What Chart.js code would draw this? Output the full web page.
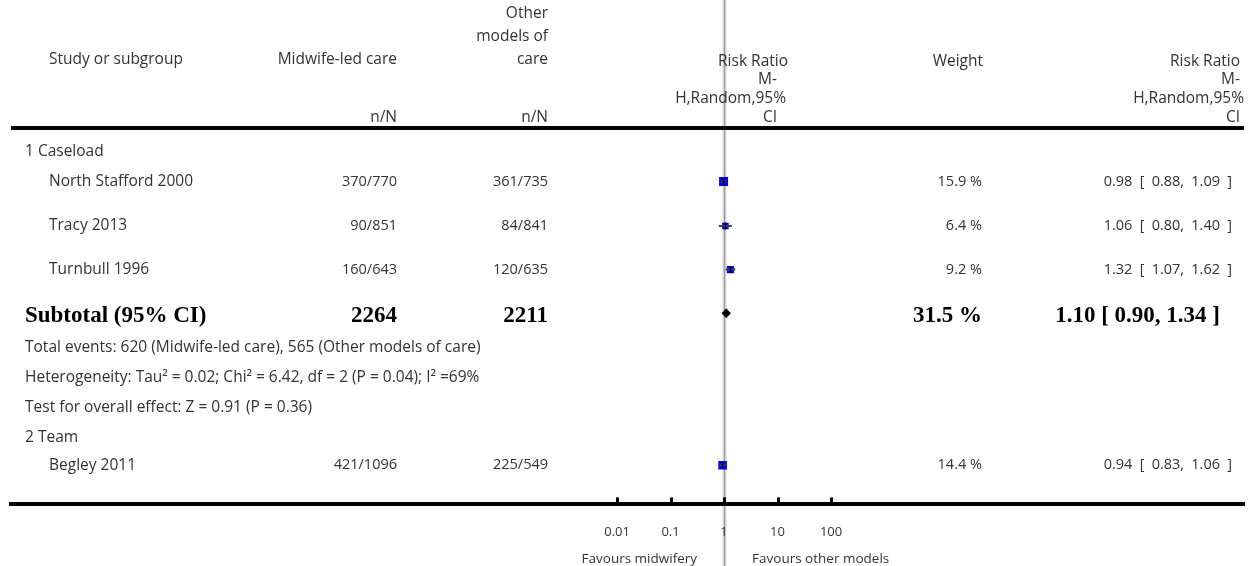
<!DOCTYPE html>
<html lang="en">
<head>
<meta charset="UTF-8">
<title>Midwife-led care vs other models of care</title>
<script src="https://cdn.jsdelivr.net/npm/chart.js"></script>
<style>
  html, body { margin: 0; padding: 0; background: #fff; }
  canvas { display: block; }
</style>
</head>
<body>
<canvas id="forest" width="1259" height="566"></canvas>
<script>
// individual studies
const studies = ['North Stafford 2000', 'Tracy 2013', 'Turnbull 1996', 'Begley 2011'];
const midwifeCounts = ['370/770', '90/851', '160/643', '421/1096'];
const otherCounts = ['361/735', '84/841', '120/635', '225/549'];
const weights = [15.9, 6.4, 9.2, 14.4];
const riskRatios = [0.98, 1.06, 1.32, 0.94];
const ciLower = [0.88, 0.80, 1.07, 0.83];
const ciUpper = [1.09, 1.40, 1.62, 1.06];

const subgroups = ['1 Caseload', '2 Team'];

// pooled result for the caseload subgroup
const subtotalLabel = 'Subtotal (95% CI)';
const subtotalTotals = [2264, 2211];
const subtotalWeight = 31.5;
const subtotalRR = 1.10;
const subtotalLower = 0.90;
const subtotalUpper = 1.34;
const subtotalNotes = [
  'Total events: 620 (Midwife-led care), 565 (Other models of care)',
  'Heterogeneity: Tau\u00b2 = 0.02; Chi\u00b2 = 6.42, df = 2 (P = 0.04); I\u00b2 =69%',
  'Test for overall effect: Z = 0.91 (P = 0.36)'
];

const xTicks = [0.01, 0.1, 1, 10, 100];
const favours = ['Favours midwifery', 'Favours other models'];

// vertical placement of each table row, in row units (top = 0)
const rows = {
  subgroups: [4.91, 14.56],
  studies: [5.91, 7.41, 8.88, 15.48],
  subtotal: 10.35,
  notes: [11.52, 12.52, 13.52]
};

const SANS = '"Open Sans", Lato, sans-serif';
const SERIF = '"Liberation Serif", "DejaVu Serif", serif';
const TEXT = '#333';

const fmt = v => v.toFixed(2);
// the CI column is set with wide (en) spaces
const ciText = (e, lo, hi) => fmt(e) + '\u2002[\u2002' + fmt(lo) + ',\u2002' + fmt(hi) + '\u2002]';

function text(ctx, str, x, y, align, font, color) {
  ctx.font = font;
  ctx.fillStyle = color || TEXT;
  ctx.textAlign = align;
  ctx.textBaseline = 'middle';
  ctx.fillText(str, x, y);
}

// reference line at RR = 1, full height, under everything else
const refLine = {
  id: 'refLine',
  beforeDraw(chart) {
    const {ctx, scales: {x}} = chart;
    const px = Math.round(x.getPixelForValue(1)) + 0.5;
    ctx.save();
    ctx.strokeStyle = 'rgba(150,150,150,0.3)';
    ctx.lineWidth = 4;
    ctx.beginPath(); ctx.moveTo(px, 0); ctx.lineTo(px, chart.height); ctx.stroke();
    ctx.strokeStyle = '#a0a0a0';
    ctx.lineWidth = 1.5;
    ctx.beginPath(); ctx.moveTo(px, 0); ctx.lineTo(px, chart.height); ctx.stroke();
    ctx.restore();
  }
};

// table text, header rule, tick marks, pooled diamond
const table = {
  id: 'table',
  afterDraw(chart) {
    const {ctx, chartArea: area, scales: {x, y}} = chart;
    const words = '15.5px ' + SANS;
    const nums = '14.5px ' + SANS;
    const bold = 'bold 23px ' + SERIF;
    ctx.save();

    // header
    text(ctx, 'Study or subgroup', 49, 60, 'left', words);
    text(ctx, 'Midwife-led care', 397, 60, 'right', words);
    text(ctx, 'Other', 548, 14, 'right', words);
    text(ctx, 'models of', 548, 37, 'right', words);
    text(ctx, 'care', 548, 60, 'right', words);
    text(ctx, 'n/N', 397, 118, 'right', words);
    text(ctx, 'n/N', 548, 118, 'right', words);
    text(ctx, 'Risk Ratio', 788, 62, 'right', words);
    text(ctx, 'M-', 777, 80, 'right', words);
    text(ctx, 'H,Random,95%', 786, 99, 'right', words);
    text(ctx, 'CI', 777, 118, 'right', words);
    text(ctx, 'Weight', 983, 62, 'right', words);
    text(ctx, 'Risk Ratio', 1240, 62, 'right', words);
    text(ctx, 'M-', 1240, 80, 'right', words);
    text(ctx, 'H,Random,95%', 1244, 99, 'right', words);
    text(ctx, 'CI', 1240, 118, 'right', words);

    ctx.fillStyle = '#000';
    ctx.fillRect(area.left, 126, area.right - area.left, 4);

    // subgroup headings and study rows
    subgroups.forEach((g, i) => text(ctx, g, 25, y.getPixelForValue(rows.subgroups[i]), 'left', words));
    studies.forEach((s, i) => {
      const py = y.getPixelForValue(rows.studies[i]);
      text(ctx, s, 49, py, 'left', words);
      text(ctx, midwifeCounts[i], 397, py, 'right', nums);
      text(ctx, otherCounts[i], 548, py, 'right', nums);
      text(ctx, weights[i].toFixed(1) + ' %', 982, py, 'right', nums);
      text(ctx, ciText(riskRatios[i], ciLower[i], ciUpper[i]), 1232, py, 'right', nums);
    });

    // subtotal row
    const sy = y.getPixelForValue(rows.subtotal) + 3;
    text(ctx, subtotalLabel, 25, sy, 'left', bold, '#000');
    text(ctx, String(subtotalTotals[0]), 397, sy, 'right', bold, '#000');
    text(ctx, String(subtotalTotals[1]), 548, sy, 'right', bold, '#000');
    text(ctx, subtotalWeight.toFixed(1) + ' %', 982, sy, 'right', bold, '#000');
    text(ctx, fmt(subtotalRR) + ' [ ' + fmt(subtotalLower) + ', ' + fmt(subtotalUpper) + ' ]', 1220, sy, 'right', bold, '#000');
    subtotalNotes.forEach((n, i) => text(ctx, n, 25, y.getPixelForValue(rows.notes[i]), 'left', words));

    // pooled diamond
    const dy = y.getPixelForValue(rows.subtotal);
    ctx.fillStyle = '#000';
    ctx.beginPath();
    ctx.moveTo(x.getPixelForValue(subtotalLower), dy);
    ctx.lineTo(x.getPixelForValue(subtotalRR), dy - 5);
    ctx.lineTo(x.getPixelForValue(subtotalUpper), dy);
    ctx.lineTo(x.getPixelForValue(subtotalRR), dy + 5);
    ctx.closePath();
    ctx.fill();

    // tick marks standing on the axis
    ctx.fillStyle = '#000';
    xTicks.forEach(v => {
      const px = Math.round(x.getPixelForValue(v));
      ctx.fillRect(px - 1, area.bottom - 7, 3, 7);
    });

    // favours labels
    const foot = '13.5px ' + SANS;
    const p1 = x.getPixelForValue(1);
    text(ctx, favours[0], p1 - 27, 559, 'right', foot);
    text(ctx, favours[1], p1 + 28, 559, 'left', foot);
    ctx.restore();
  }
};

const whiskers = studies.map((s, i) => ({
  type: 'line',
  label: s,
  data: [{x: ciLower[i], y: rows.studies[i]}, {x: ciUpper[i], y: rows.studies[i]}],
  borderColor: '#444',
  borderWidth: 2,
  pointRadius: 0,
  order: 1
}));

new Chart(document.getElementById('forest'), {
  type: 'scatter',
  data: {
    datasets: [
      {
        label: 'Risk Ratio',
        data: riskRatios.map((v, i) => ({x: v, y: rows.studies[i]})),
        pointStyle: 'rect',
        pointRadius: c => (5 + weights[c.dataIndex] * 0.25) / Math.SQRT2,
        backgroundColor: '#0000ff',
        borderWidth: 0,
        order: 2
      },
      ...whiskers,
      {
        label: 'estimate',
        data: riskRatios.map((v, i) => ({x: v, y: rows.studies[i]})),
        pointStyle: 'line',
        rotation: 90,
        pointRadius: 3.5,
        borderColor: '#000',
        borderWidth: 1.5,
        order: 0
      }
    ]
  },
  options: {
    responsive: false,
    animation: false,
    events: [],
    layout: { padding: { left: 11, right: 15, top: 0, bottom: 6 } },
    plugins: { legend: { display: false }, tooltip: { enabled: false } },
    scales: {
      x: {
        type: 'logarithmic',
        min: Math.pow(10, -13.33),
        max: Math.pow(10, 9.72),
        afterBuildTicks: scale => { scale.ticks = xTicks.map(v => ({value: v})); },
        ticks: {
          autoSkip: false,
          maxRotation: 0,
          padding: 20,
          color: TEXT,
          font: { family: SANS, size: 13 },
          callback: v => String(v)
        },
        grid: { display: false, drawTicks: false },
        border: { display: true, color: '#000', width: 4 }
      },
      y: {
        display: false,
        reverse: true,
        min: 0,
        max: 16.8
      }
    }
  },
  plugins: [refLine, table]
});
</script>
</body>
</html>
